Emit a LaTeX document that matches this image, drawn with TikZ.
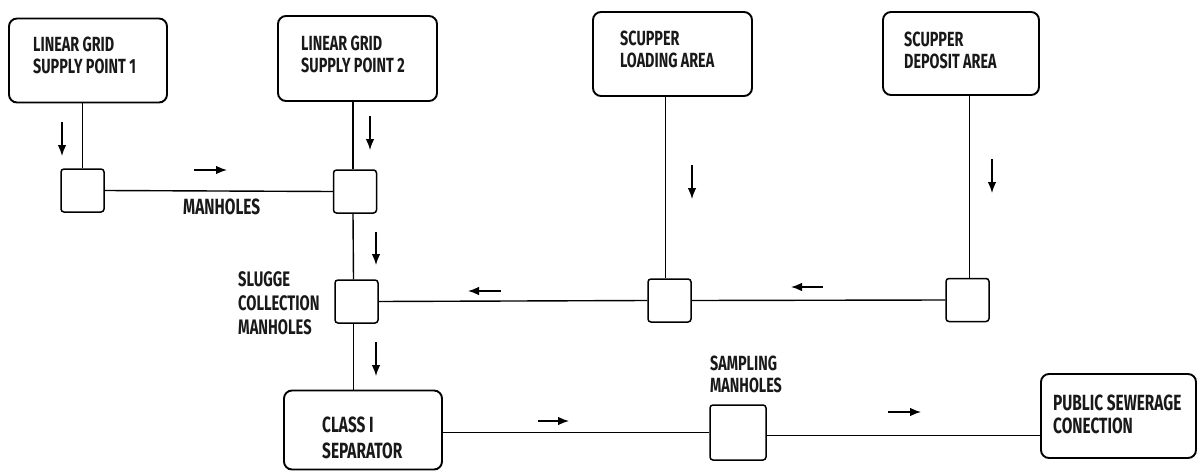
\documentclass[tikz,border=0pt]{standalone}
\usepackage{fontspec}
\newfontfamily\lblfont[FakeStretch=0.70]{Fira Sans}
\usetikzlibrary{arrows.meta}
\begin{document}
\begin{tikzpicture}[x=1pt,y=-1pt,
  bigbox/.style={draw, line width=1.9pt, rounded corners=8pt, inner sep=0pt},
  hole/.style={draw, line width=1.5pt, rounded corners=3pt, inner sep=0pt, minimum width=43pt, minimum height=43pt},
  lbl/.style={anchor=north west, inner sep=0pt, align=left, text=black!90,
    font=\lblfont\bfseries\fontsize{20.5}{22.5}\selectfont},
  pipe/.style={line width=1.4pt},
  flow/.style={line width=1.3pt, -{Latex[length=11pt,width=8.5pt]}}]
\useasboundingbox (0,0) rectangle (1197,471);

% big boxes
\node[bigbox, minimum width=158pt, minimum height=84pt] (b1) at (88,60.5) {};
\node[bigbox, minimum width=159pt, minimum height=85pt] (b2) at (357.5,58.5) {};
\node[bigbox, minimum width=159pt, minimum height=84pt] (b3) at (672.5,54) {};
\node[bigbox, minimum width=156pt, minimum height=83pt] (b4) at (961,53.5) {};
\node[bigbox, minimum width=158pt, minimum height=79pt] (b5) at (363,430) {};
\node[bigbox, minimum width=155pt, minimum height=84pt] (b6) at (1118.5,416) {};

% box texts
\node[lbl] (t1) at (33,36.5) {LINEAR GRID\\SUPPLY POINT 1};
\node[lbl] (t2) at (301,35.5) {LINEAR GRID\\SUPPLY POINT 2};
\node[lbl] (t3) at (620,30.5) {SCUPPER\\LOADING AREA};
\node[lbl] (t4) at (904,31.5) {SCUPPER\\DEPOSIT AREA};
\node[lbl, font=\lblfont\bfseries\fontsize{22}{26}\selectfont] (t5) at (322,416.5) {CLASS I\\SEPARATOR};
\node[lbl, font=\lblfont\bfseries\fontsize{22}{23.5}\selectfont] (t6) at (1053,394.5) {PUBLIC SEWERAGE\\CONECTION};

% manholes
\node[hole] (m1) at (82.5,190.5) {};
\node[hole] (m2) at (355,191.5) {};
\node[hole] (m3) at (356.5,301.5) {};
\node[hole] (m4) at (669.5,300.5) {};
\node[hole] (m5) at (967.5,300) {};
\node[hole, minimum width=56pt, minimum height=55pt] (m6) at (738,432.5) {};

% labels
\node[lbl, font=\lblfont\bfseries\fontsize{22}{22}\selectfont] (l1) at (183,199) {MANHOLES};
\node[lbl, font=\lblfont\bfseries\fontsize{21}{24}\selectfont] (l2) at (238,271.5) {SLUGGE\\COLLECTION\\MANHOLES};
\node[lbl] (l3) at (710,355.5) {SAMPLING\\MANHOLES};

% pipes
\draw[pipe] (m1.north) -- (m1.north |- b1.south);
\draw[pipe] (m1.east) -- (m2.west);
\draw[pipe] ([xshift=-2pt]m2.north) -- ([xshift=-2pt]m2.north |- b2.south);
\draw[pipe] ([xshift=-2pt]m2.south) -- ([xshift=-3pt]m3.north);
\draw[pipe] ([xshift=-3pt]m3.south) -- ([xshift=-3pt]m3.south |- b5.north);
\draw[pipe] (m3.east) -- (m4.west);
\draw[pipe] ([xshift=-4pt]m4.north) -- ([xshift=-4pt]m4.north |- b3.south);
\draw[pipe] (m4.east) -- (m5.west);
\draw[pipe] ([xshift=2pt]m5.north) -- ([xshift=2pt]m5.north |- b4.south);
\draw[pipe] (m6.west -| b5.east) -- (m6.west);
\draw[pipe] ([yshift=-3pt]m6.east) -- ([yshift=-3pt]m6.east -| b6.west);

% flow arrows
\draw[flow] (62,122) -- (62,156);
\draw[flow] (194,170) -- (227,170);
\draw[flow] (370,116) -- (370,150);
\draw[flow] (376,232) -- (376,265);
\draw[flow] (376,342) -- (376,376);
\draw[flow] (501,291) -- (468,291);
\draw[flow] (823,287) -- (791,287);
\draw[flow] (692,165) -- (692,199);
\draw[flow] (992,159) -- (992,193);
\draw[flow] (538,421) -- (569,421);
\draw[flow] (888,412) -- (921,412);
\end{tikzpicture}
\end{document}
